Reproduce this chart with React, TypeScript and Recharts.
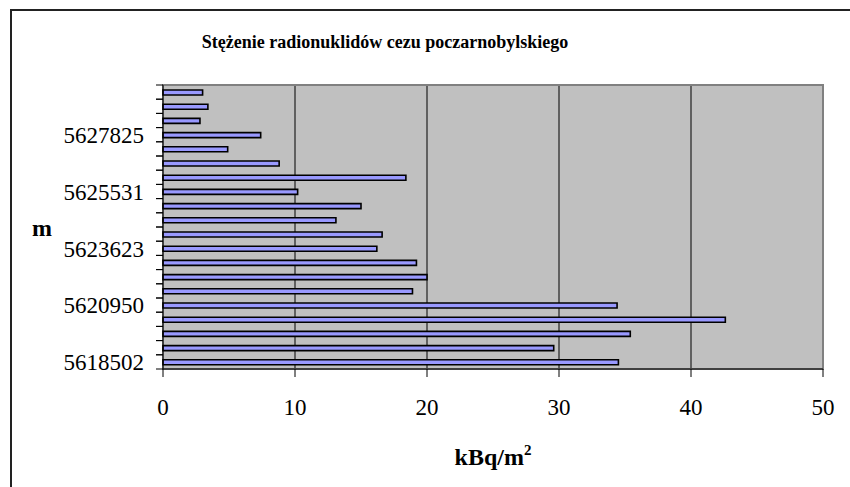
import { BarChart, Bar, XAxis, YAxis, CartesianGrid, ReferenceArea } from "recharts";

// kolejność jak w Excelu: pierwszy punkt na dole wykresu
const northing = [
  "5618502", "", "", "",
  "5620950", "", "", "",
  "5623623", "", "", "",
  "5625531", "", "", "",
  "5627825", "", "", "",
];
const cesium = [
  34.5, 29.6, 35.4, 42.6, 34.4, 18.9, 20.0, 19.2, 16.2, 16.6,
  13.1, 15.0, 10.2, 18.4, 8.8, 4.9, 7.4, 2.8, 3.4, 3.0,
];
const xTicks = [0, 10, 20, 30, 40, 50];

const data = cesium.map((v, i) => ({ id: i, v }));

const W = 850;
const H = 487;
const M = { top: 85, right: 27, left: 63, bottom: 78 };
const X_AXIS_H = 40;
const PLOT_H = H - M.top - M.bottom - X_AXIS_H;
const BAND = PLOT_H / cesium.length;
const SERIF = "'Liberation Serif', 'Times New Roman', serif";

function NorthTick(props: any) {
  const { x, y, payload } = props;
  const label = northing[payload.value];
  return (
    <g>
      <line x1={x - 7} x2={x} y1={y - BAND / 2} y2={y - BAND / 2} stroke="#000" />
      <line x1={x - 7} x2={x} y1={y + BAND / 2} y2={y + BAND / 2} stroke="#000" />
      {label && (
        <text x={x - 19} y={y} dy="0.36em" textAnchor="end" fontSize={23} fontFamily={SERIF} fill="#000">
          {label}
        </text>
      )}
    </g>
  );
}

function XTitle(props: any) {
  const { viewBox } = props;
  const cx = viewBox.x + viewBox.width / 2;
  return (
    <text x={cx} y={viewBox.y + 96} textAnchor="middle" fontSize={24} fontWeight="bold" fontFamily={SERIF} fill="#000">
      kBq/m<tspan fontSize={15} dy={-10}>2</tspan>
    </text>
  );
}

function YTitle(props: any) {
  const { viewBox } = props;
  return (
    <text x={42} y={viewBox.y + viewBox.height / 2 + 9} textAnchor="middle" fontSize={24} fontWeight="bold" fontFamily={SERIF} fill="#000">
      m
    </text>
  );
}

export default function App() {
  return (
    <div style={{ position: "absolute", left: 0, top: 0, width: W, height: H, overflow: "hidden", background: "#fff" }}>
      <div
        style={{
          position: "absolute", left: 10, top: 9, width: W + 20, height: H + 20,
          border: "2px solid #222",
        }}
      />
      <div
        style={{
          position: "absolute", left: 0, width: 770, top: 32, textAlign: "center",
          fontFamily: SERIF, fontWeight: "bold", fontSize: 18, color: "#000",
        }}
      >
        Stężenie radionuklidów cezu poczarnobylskiego
      </div>
      <div style={{ position: "absolute", left: 0, top: 0 }}>
        <BarChart width={W} height={H} data={data} layout="vertical" margin={M}>
          <CartesianGrid horizontal={false} stroke="#000" fill="#C0C0C0" fillOpacity={1} />
          <ReferenceArea x1={0} x2={50} fill="none" stroke="#808080" strokeWidth={2} ifOverflow="visible" />
          <XAxis
            type="number"
            domain={[0, 50]}
            ticks={xTicks}
            height={X_AXIS_H}
            tickSize={8}
            tickMargin={22}
            axisLine={{ stroke: "#404040", strokeWidth: 2 }}
            tickLine={{ stroke: "#000" }}
            tick={{ fontSize: 23, fontFamily: SERIF, fill: "#000" }}
            label={<XTitle />}
          />
          <YAxis
            type="category"
            dataKey="id"
            reversed
            width={100}
            interval={0}
            tickSize={0}
            tickMargin={0}
            tickLine={false}
            axisLine={{ stroke: "#000" }}
            tick={<NorthTick />}
            label={<YTitle />}
          />
          <Bar dataKey="v" fill="#9999FF" stroke="#000" strokeWidth={1.6} barSize={5} isAnimationActive={false} />
        </BarChart>
      </div>
    </div>
  );
}
